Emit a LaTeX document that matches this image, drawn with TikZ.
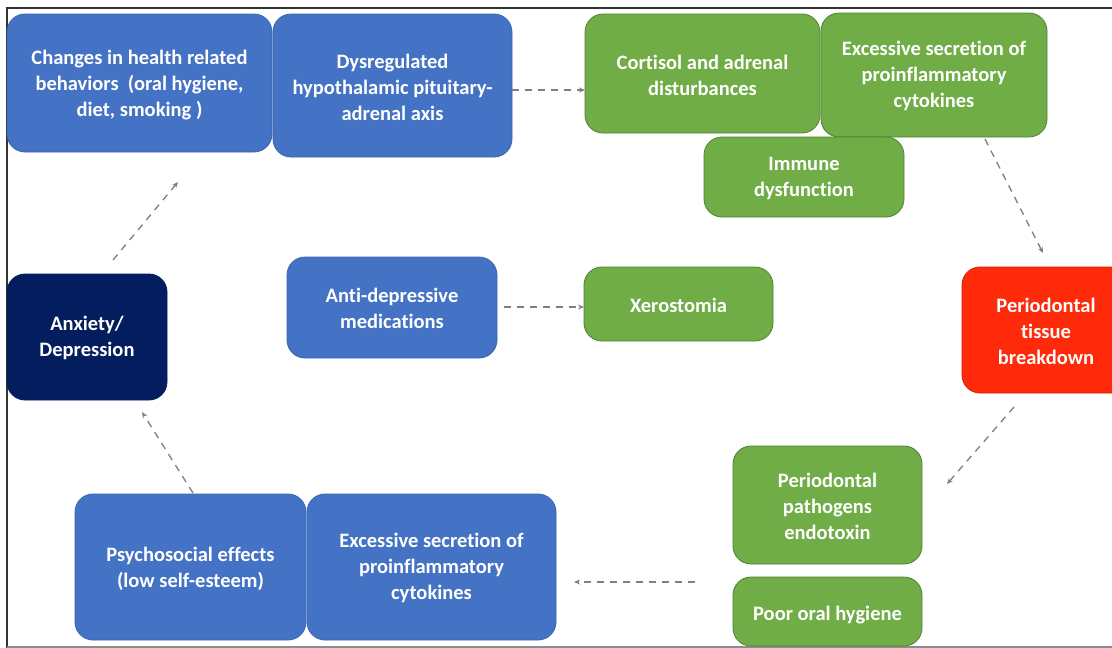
\documentclass[tikz,border=0pt]{standalone}
\usepackage{fontspec}
\setmainfont{Carlito}[Ligatures=NoCommon]
\usetikzlibrary{arrows.meta}
\definecolor{boxblue}{HTML}{4472C4}
\definecolor{blueline}{HTML}{3A64B0}
\definecolor{boxgreen}{HTML}{70AD47}
\definecolor{greenline}{HTML}{4F7F33}
\definecolor{boxred}{HTML}{FF2A0A}
\definecolor{redline}{HTML}{D02000}
\definecolor{boxnavy}{HTML}{031D5E}
\definecolor{arrowgray}{HTML}{7F7F7F}
\tikzset{
  x=1pt, y=-1pt,
  box/.style={rounded corners=18pt, line width=0.8pt},
  bluebox/.style={box, fill=boxblue, draw=blueline},
  greenbox/.style={box, fill=boxgreen, draw=greenline},
  redbox/.style={box, fill=boxred, draw=redline},
  navybox/.style={box, fill=boxnavy, draw=boxnavy},
  lbl/.style={text=white, align=center, font=\fontsize{20.5}{26}\selectfont\bfseries},
  conn/.style={draw=arrowgray, line width=1.3pt, dash pattern=on 7pt off 6pt, -{Stealth[length=6pt,width=5pt]}},
}
\begin{document}
\begin{tikzpicture}
\useasboundingbox (0,0) rectangle (1112,648);
\fill[white] (0,0) rectangle (1112,648);
% frame
\draw[line width=1.8pt, black!80] (1112,8) -- (7,8) -- (7,648);
\draw[line width=1.2pt, black!45] (7,647) -- (1112,647);

% boxes (drawn in stacking order)
\draw[bluebox] (7,14) rectangle (272,152);
\node[lbl] (chg) at (139.5,85) {Changes in health related\\behaviors\ \ (oral hygiene,\\diet, smoking )};
\draw[bluebox] (273,14) rectangle (512,157);
\node[lbl] (hpa) at (392.5,87) {Dysregulated\\hypothalamic pituitary-\\adrenal axis};

\draw[greenbox] (585,14) rectangle (820,133);
\node[lbl] (cort) at (702.5,75) {Cortisol and adrenal\\disturbances};
\draw[greenbox] (821,13) rectangle (1047,137);
\node[lbl] (cyt1) at (934,76) {Excessive secretion of\\proinflammatory\\cytokines};
\draw[greenbox] (704,137) rectangle (904,217);
\node[lbl] (imm) at (804,178) {Immune\\dysfunction};

\draw[navybox] (7,274) rectangle (167,400);
\node[lbl] (anx) at (87,338) {Anxiety/\\Depression};
\draw[bluebox] (287,257) rectangle (497,358);
\node[lbl] (anti) at (392,308.5) {Anti-depressive\\medications};
\draw[greenbox] (584,267) rectangle (773,341);
\node[lbl] (xer) at (678.5,305) {Xerostomia};
\draw[redbox] (962,267) rectangle (1135,393);
\node[lbl] (perio) at (1046,331) {Periodontal\\tissue\\breakdown};

\draw[greenbox] (733,446) rectangle (922,564);
\node[lbl] (path) at (827.5,506) {Periodontal\\pathogens\\endotoxin};
\draw[greenbox] (733,577) rectangle (922,646);
\node[lbl] (poor) at (827.5,615) {Poor oral hygiene};

\draw[bluebox] (75,494) rectangle (306,640);
\node[lbl] (psy) at (190.5,569) {Psychosocial effects\\(low self-esteem)};
\draw[bluebox] (307,494) rectangle (556,640);
\node[lbl] (cyt2) at (431.5,568) {Excessive secretion of\\proinflammatory\\cytokines};

% connector end points
\coordinate (a1s) at (512,90);   \coordinate (a1e) at (585,90);
\coordinate (a2s) at (985,139);  \coordinate (a2e) at (1043,253);
\coordinate (a3s) at (1014,407); \coordinate (a3e) at (947,484);
\coordinate (a4s) at (695,582);  \coordinate (a4e) at (574,582);
\coordinate (a5s) at (193,493);  \coordinate (a5e) at (142,412);
\coordinate (a6s) at (113,260);  \coordinate (a6e) at (178,182);
\coordinate (a7s) at (504,307);  \coordinate (a7e) at (584,307);

\draw[conn] (a1s) -- (a1e);
\draw[conn] (a2s) -- (a2e);
\draw[conn] (a3s) -- (a3e);
\draw[conn] (a4s) -- (a4e);
\draw[conn] (a5s) -- (a5e);
\draw[conn] (a6s) -- (a6e);
\draw[conn] (a7s) -- (a7e);
\end{tikzpicture}
\end{document}
